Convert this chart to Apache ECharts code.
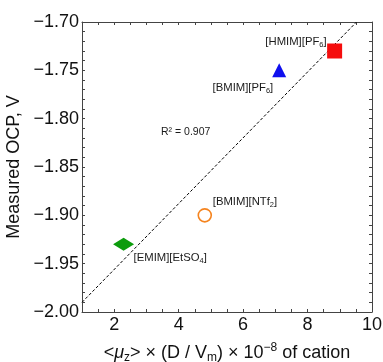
<!DOCTYPE html>
<html>
<head>
<meta charset="utf-8">
<script src="https://cdn.jsdelivr.net/npm/echarts@6/dist/echarts.min.js"></script>
<style>
  html, body { margin: 0; padding: 0; background: #fff; }
  #chart { width: 383px; height: 362px; }
</style>
</head>
<body>
<div id="chart"></div>
<script>
// ionic liquids: x = <mu_z> x (D / Vm) x 1e-8, y = measured OCP (V)
const liquids = ['[HMIM][PF{sub|6}]', '[BMIM][PF{sub|6}]', '[BMIM][NTf{sub|2}]', '[EMIM][EtSO{sub|4}]']
const xValues = [8.84, 7.12, 4.81, 2.29]
const yValues = [-1.73, -1.75, -1.90, -1.93]
// linear fit drawn as dashed line, R^2 = 0.907
const fitX = [1, 9.52]
const fitY = [-1.99, -1.70]
const xTicks = [2, 4, 6, 8, 10]
const yTicks = [-2.00, -1.95, -1.90, -1.85, -1.80, -1.75, -1.70]

const symbols = ['rect', 'triangle', 'circle', 'diamond']
const symbolSizes = [15, 14, 13, [21, 13]]
const colors = ['#f50d0d', '#0f0fee', '#f5841f', '#0c9c0c']
const hollow = [false, false, true, false]
const labelAlign = ['right', 'right', 'left', 'left']
const labelOffset = [[-8, -9], [-6, 18], [8, -13], [10, 14]]

const fontFamily = '"Liberation Sans", Arial, sans-serif'
const frameColor = '#444'

const subStyle = { fontSize: 7.5, fontFamily, color: '#1a1a1a', verticalAlign: 'bottom', lineHeight: 13 }

function minus(v) {
  return (v < 0 ? '\u2212' : '') + Math.abs(v).toFixed(2)
}

const chart = echarts.init(document.getElementById('chart'))

const baseAxis = {
  axisLine: { show: true, onZero: false, lineStyle: { color: frameColor, width: 1 } },
  splitLine: { show: false }
}

const series = liquids.map((name, i) => ({
  type: 'scatter',
  symbol: symbols[i],
  symbolSize: symbolSizes[i],
  itemStyle: hollow[i]
    ? { color: '#fff', borderColor: colors[i], borderWidth: 1.6, opacity: 1 }
    : { color: colors[i], opacity: 1 },
  label: {
    show: true,
    position: 'inside',
    align: labelAlign[i],
    verticalAlign: 'middle',
    offset: labelOffset[i],
    formatter: name,
    fontSize: 11.3,
    fontFamily,
    color: '#1a1a1a',
    lineHeight: 13,
    rich: { sub: subStyle }
  },
  emphasis: { disabled: true },
  z: 3,
  data: [[xValues[i], yValues[i]]]
}))

series.unshift({
  type: 'line',
  data: fitX.map((x, i) => [x, fitY[i]]),
  symbol: 'none',
  lineStyle: { color: '#000', width: 1, type: [3, 2] },
  silent: true,
  z: 2
})

chart.setOption({
  animation: false,
  grid: { left: 82, right: 11, top: 22, bottom: 50, containLabel: false, outerBoundsMode: 'none' },
  xAxis: [
    Object.assign({}, baseAxis, {
      type: 'value', position: 'bottom', min: 1, max: 10, interval: 0.5,
      axisTick: { show: true, inside: true, length: 3, lineStyle: { color: frameColor } },
      axisLabel: {
        customValues: xTicks, margin: 4, fontSize: 18, fontFamily, color: '#111',
        formatter: v => String(v)
      },
      name: '<{it|\u03bc}{sub|z}> \u00d7 (D / V{sub|m}) \u00d7 10{sup|\u22128} of cation',
      nameLocation: 'middle',
      nameGap: 30,
      nameTextStyle: {
        fontSize: 18, fontFamily, color: '#111', lineHeight: 22,
        rich: {
          it: { fontSize: 18, fontFamily, fontStyle: 'italic', color: '#111', lineHeight: 22 },
          sub: { fontSize: 12, fontFamily, color: '#111', verticalAlign: 'bottom', lineHeight: 22 },
          sup: { fontSize: 12, fontFamily, color: '#111', verticalAlign: 'top', lineHeight: 22 }
        }
      }
    }),
    Object.assign({}, baseAxis, {
      type: 'value', position: 'top', min: 1, max: 10, interval: 0.5,
      axisTick: { show: true, inside: true, length: 3, lineStyle: { color: frameColor } },
      axisLabel: { show: false }
    })
  ],
  yAxis: [
    Object.assign({}, baseAxis, {
      type: 'value', position: 'left', min: -2, max: -1.7, interval: 0.01,
      axisTick: { show: true, inside: true, length: 3, lineStyle: { color: frameColor } },
      axisLabel: {
        customValues: yTicks, margin: 3, fontSize: 18, fontFamily, color: '#111',
        formatter: v => minus(v)
      },
      name: 'Measured OCP, V',
      nameLocation: 'middle',
      nameGap: 54,
      nameTextStyle: { fontSize: 18, fontFamily, color: '#111' }
    }),
    Object.assign({}, baseAxis, {
      type: 'value', position: 'right', min: -2, max: -1.7, interval: 0.01,
      axisTick: { show: true, inside: true, length: 3, lineStyle: { color: frameColor } },
      axisLabel: { show: false }
    })
  ],
  graphic: [{
    type: 'text',
    left: 161,
    top: 127,
    style: { text: 'R\u00b2 = 0.907', fontSize: 10.5, fontFamily, fill: '#1a1a1a' }
  }],
  series: series
})
</script>
</body>
</html>
